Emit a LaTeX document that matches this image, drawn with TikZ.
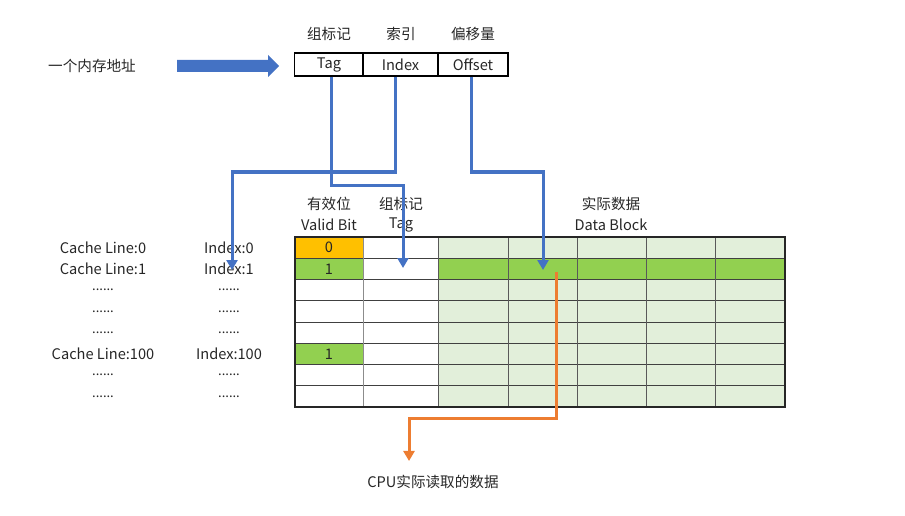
\documentclass[tikz,border=0pt]{standalone}
\usepackage{fontspec}
\setmainfont{Noto Sans CJK SC}
\usetikzlibrary{arrows.meta,calc}
\definecolor{bl}{HTML}{4472C4}
\definecolor{org}{HTML}{ED7D31}
\definecolor{gold}{HTML}{FFC000}
\definecolor{grn}{HTML}{92D050}
\definecolor{lgrn}{HTML}{E2EFDA}
\definecolor{txt}{HTML}{262626}
\begin{document}
\begin{tikzpicture}[x=1pt,y=-1pt,
  every node/.style={font=\fontsize{14.6}{16}\selectfont, inner sep=0pt, text=txt},
  field/.style={draw=black, line width=1.3pt, minimum height=23pt, anchor=center},
  blueline/.style={draw=bl, line width=3pt, -{Triangle[length=10pt,width=11pt]}},
  orangeline/.style={draw=org, line width=3pt, -{Triangle[length=10pt,width=11pt]}},
  dots/.style={font=\fontsize{13}{14}\selectfont}]
\useasboundingbox (0,0) rectangle (905,516);
% address
\node (addr) at (92,66) {一个内存地址};
\fill[bl] (177,60) -- (268,60) -- (268,55) -- (279,66) -- (268,77) -- (268,72) -- (177,72) -- cycle;
\node[field, minimum width=69pt] (tag) at (329,64.5) {Tag};
\node[field, minimum width=75pt] (idx) at (400.5,64.5) {Index};
\node[field, minimum width=70pt] (off) at (473,64.5) {Offset};
\node (h1) at (329,34) {组标记};
\node (h2) at (401,34) {索引};
\node (h3) at (473,34) {偏移量};
% column headers
\node (vh1) at (329,204) {有效位};
\node (vh2) at (329,225) {Valid Bit};
\node (th1) at (401,204) {组标记};
\node (th2) at (401,225) {Tag};
\node (dh1) at (611,204) {实际数据};
\node (dh2) at (611,225) {Data Block};
% fills
\fill[lgrn] (438,237) rectangle (785,407);
\fill[grn] (438,258.25) rectangle (785,279.5);
\fill[gold] (295,237) rectangle (363,258.25);
\fill[grn] (295,258.25) rectangle (363,279.5);
\fill[grn] (295,343.25) rectangle (363,364.5);
% grid
\foreach \y in {258.25,279.5,300.75,322,343.25,364.5,385.75}
  \draw[black!75, line width=1pt] (295,\y) -- (785,\y);
\draw[black!45, line width=1pt] (363,237) -- (363,407);
\foreach \x in {438,508,577,646,715.5}
  \draw[black!65, line width=1pt] (\x,237) -- (\x,407);
\draw[black!85, line width=1.2pt] (295,237) rectangle (785,407);
\node at (329,247.6) {0};
\node at (329,268.9) {1};
\node at (329,353.9) {1};
% left labels
\foreach \y/\a/\b in {247.6/Cache Line:0/Index:0, 268.9/Cache Line:1/Index:1, 353.9/Cache Line:100/Index:100}{
  \node at (103,\y) {\a};
  \node at (229,\y) {\b};
}
\foreach \y in {290.1,311.4,332.6,375.1,396.4}{
  \node[dots] at (103,\y) {......};
  \node[dots] at (229,\y) {......};
}
% connectors
\coordinate (tb) at (331.5,185);
\coordinate (tc) at (403,185);
\coordinate (tagtip) at (403,268);
\draw[blueline] (tag.south -| tb) -- (tb) -- (tc) -- (tagtip);
\coordinate (ib) at (395,172);
\coordinate (ic) at (232,172);
\coordinate (idxtip) at (232,270);
\draw[blueline] (idx.south -| ib) -- (ib) -- (ic) -- (idxtip);
\coordinate (ob) at (471.5,172);
\coordinate (oc) at (543,172);
\coordinate (offtip) at (543,270);
\draw[blueline] (off.south -| ob) -- (ob) -- (oc) -- (offtip);
\coordinate (os) at (556,272);
\coordinate (ob2) at (556,418.5);
\coordinate (oc2) at (409,418.5);
\node (cpu) at (433,482) {CPU实际读取的数据};
\draw[orangeline] (os) -- (ob2) -- (oc2) -- ($(cpu.north -| oc2)+(0,-14)$);
\end{tikzpicture}
\end{document}
